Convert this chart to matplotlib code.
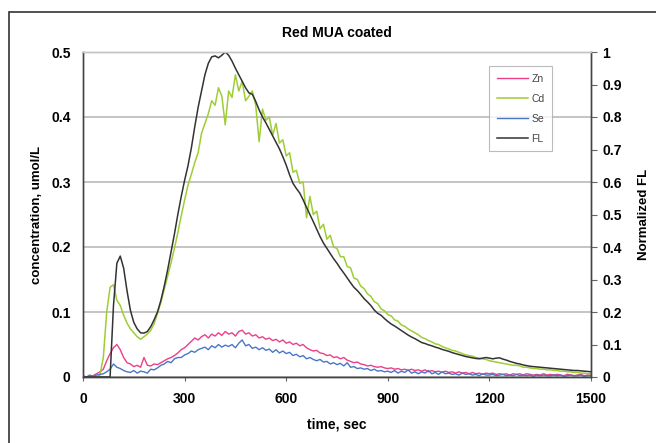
import numpy as np
import matplotlib
matplotlib.use("Agg")
import matplotlib.pyplot as plt
from matplotlib.patches import Rectangle

plt.rcParams['font.family'] = ['Liberation Sans', 'DejaVu Sans']

time_s = np.arange(0, 1501, 10)

zn = [0,0,0,0.002,0.005,0.008,0.012,0.025,0.036,0.045,
      0.050,0.042,0.030,0.022,0.020,0.016,0.018,0.015,0.030,0.018,
      0.017,0.020,0.019,0.022,0.025,0.028,0.030,0.033,0.037,0.042,
      0.045,0.050,0.055,0.060,0.057,0.062,0.065,0.060,0.066,0.063,
      0.068,0.064,0.070,0.066,0.068,0.063,0.070,0.072,0.066,0.068,
      0.063,0.065,0.060,0.062,0.058,0.060,0.056,0.058,0.054,0.057,
      0.052,0.054,0.050,0.052,0.048,0.050,0.045,0.042,0.040,0.041,
      0.037,0.036,0.033,0.034,0.030,0.031,0.028,0.030,0.026,0.024,
      0.022,0.023,0.020,0.019,0.017,0.018,0.016,0.015,0.016,0.014,
      0.013,0.014,0.012,0.013,0.011,0.012,0.010,0.012,0.010,0.011,
      0.009,0.011,0.008,0.010,0.008,0.009,0.007,0.009,0.007,0.008,
      0.006,0.008,0.006,0.007,0.005,0.007,0.005,0.006,0.004,0.006,
      0.005,0.006,0.004,0.005,0.004,0.005,0.003,0.005,0.004,0.005,
      0.003,0.005,0.004,0.003,0.004,0.003,0.005,0.003,0.004,0.003,
      0.004,0.003,0.002,0.004,0.003,0.002,0.003,0.004,0.002,0.003,
      0.003]

cd = [0,0,0,0,0,0.003,0.03,0.10,0.138,0.142,
      0.118,0.110,0.095,0.083,0.074,0.068,0.062,0.058,0.062,0.066,
      0.072,0.082,0.098,0.115,0.135,0.155,0.176,0.198,0.222,0.248,
      0.272,0.295,0.312,0.330,0.345,0.375,0.390,0.405,0.425,0.418,
      0.445,0.432,0.388,0.440,0.430,0.465,0.440,0.455,0.425,0.432,
      0.440,0.418,0.362,0.412,0.395,0.400,0.372,0.390,0.360,0.365,
      0.340,0.345,0.315,0.318,0.298,0.300,0.245,0.278,0.250,0.255,
      0.228,0.235,0.212,0.218,0.200,0.198,0.185,0.185,0.170,0.168,
      0.152,0.150,0.140,0.136,0.128,0.124,0.116,0.113,0.105,0.102,
      0.096,0.094,0.088,0.086,0.080,0.078,0.074,0.071,0.068,0.065,
      0.061,0.059,0.056,0.054,0.051,0.050,0.047,0.045,0.043,0.041,
      0.040,0.038,0.036,0.034,0.033,0.032,0.030,0.029,0.028,0.027,
      0.025,0.024,0.023,0.022,0.021,0.020,0.019,0.018,0.018,0.017,
      0.015,0.015,0.014,0.013,0.013,0.012,0.012,0.011,0.011,0.010,
      0.010,0.009,0.009,0.008,0.008,0.007,0.007,0.006,0.006,0.005,
      0.005]

se = [0.002,0.000,0.003,0.001,0.003,0.004,0.005,0.008,0.012,0.020,
      0.015,0.013,0.010,0.008,0.007,0.010,0.006,0.009,0.008,0.006,
      0.012,0.011,0.014,0.018,0.020,0.024,0.022,0.028,0.030,0.030,
      0.034,0.036,0.040,0.038,0.042,0.044,0.046,0.042,0.048,0.045,
      0.050,0.046,0.049,0.047,0.050,0.045,0.052,0.057,0.048,0.050,
      0.044,0.046,0.042,0.045,0.041,0.043,0.038,0.042,0.037,0.040,
      0.036,0.038,0.033,0.035,0.031,0.033,0.028,0.030,0.027,0.025,
      0.027,0.023,0.024,0.020,0.022,0.019,0.021,0.017,0.022,0.015,
      0.016,0.013,0.014,0.012,0.013,0.010,0.012,0.009,0.010,0.008,
      0.009,0.007,0.010,0.006,0.009,0.007,0.011,0.006,0.008,0.005,
      0.008,0.006,0.010,0.005,0.007,0.004,0.008,0.005,0.006,0.004,
      0.005,0.003,0.006,0.004,0.005,0.003,0.004,0.002,0.005,0.003,
      0.003,0.004,0.002,0.003,0.004,0.002,0.003,0.002,0.004,0.002,
      0.003,0.002,0.003,0.001,0.003,0.002,0.003,0.002,0.002,0.003,
      0.002,0.003,0.001,0.002,0.003,0.002,0.002,0.003,0.001,0.002,
      0.002]

fl = [0,0,0,0,0,0,0,0,0,0.22,
      0.35,0.372,0.335,0.265,0.205,0.168,0.148,0.136,0.135,0.140,
      0.155,0.176,0.200,0.236,0.280,0.330,0.385,0.440,0.500,0.555,
      0.605,0.650,0.705,0.770,0.830,0.880,0.930,0.965,0.985,0.988,
      0.982,0.990,1.000,0.990,0.972,0.950,0.930,0.910,0.890,0.874,
      0.870,0.848,0.822,0.800,0.782,0.762,0.742,0.722,0.702,0.678,
      0.652,0.622,0.596,0.580,0.566,0.545,0.522,0.500,0.478,0.455,
      0.432,0.412,0.396,0.380,0.364,0.350,0.334,0.320,0.305,0.290,
      0.276,0.266,0.254,0.241,0.231,0.220,0.206,0.196,0.190,0.180,
      0.171,0.163,0.157,0.150,0.143,0.136,0.129,0.123,0.118,0.112,
      0.106,0.103,0.099,0.096,0.092,0.089,0.085,0.082,0.079,0.075,
      0.072,0.069,0.066,0.063,0.061,0.059,0.057,0.056,0.058,0.060,
      0.058,0.056,0.058,0.059,0.055,0.052,0.048,0.045,0.042,0.040,
      0.037,0.035,0.033,0.032,0.031,0.030,0.029,0.028,0.027,0.026,
      0.025,0.024,0.023,0.022,0.021,0.020,0.020,0.019,0.018,0.017,
      0.016]

x_ticks = [0, 300, 600, 900, 1200, 1500]
y_left_ticks = [0, 0.1, 0.2, 0.3, 0.4, 0.5]
y_right_ticks = [0, 0.1, 0.2, 0.3, 0.4, 0.5, 0.6, 0.7, 0.8, 0.9, 1]

W, H = 656, 443
fig = plt.figure(figsize=(W/100, H/100), dpi=100)
fig.patches.append(Rectangle((9/W, -0.1), 1.2, (H-12)/H + 0.1, transform=fig.transFigure,
                             fill=False, edgecolor='#333333', linewidth=1.2))

ax = fig.add_axes([83/W, 1-377/H, (591-83)/W, (377-52)/H])
ax2 = ax.twinx()

c_zn, c_cd, c_se, c_fl = '#ec3f86', '#9fcd35', '#4a76c8', '#333333'
l1, = ax.plot(time_s, zn, color=c_zn, lw=1.0, label='Zn')
l2, = ax.plot(time_s, cd, color=c_cd, lw=1.1, label='Cd')
l3, = ax.plot(time_s, se, color=c_se, lw=1.0, label='Se')
l4, = ax2.plot(time_s, fl, color=c_fl, lw=1.1, label='FL')

ax.set_xlim(0, 1500)
ax.set_ylim(0, 0.5)
ax2.set_ylim(0, 1)
ax.set_xticks(x_ticks)
ax.set_xticklabels([str(v) for v in x_ticks])
ax.set_yticks(y_left_ticks)
ax.set_yticklabels(['0', '0.1', '0.2', '0.3', '0.4', '0.5'])
ax2.set_yticks(y_right_ticks)
ax2.set_yticklabels(['0', '0.1', '0.2', '0.3', '0.4', '0.5', '0.6', '0.7', '0.8', '0.9', '1'])

ax.yaxis.grid(True, color='#c4c4c4', lw=1.4)
ax.set_axisbelow(True)
for a in (ax, ax2):
    for s in a.spines.values():
        s.set_color('#444444')
        s.set_linewidth(1.0)
    a.spines['top'].set_color('#c4c4c4')
ax.tick_params(axis='both', labelsize=10, length=0, pad=9)
ax.tick_params(axis='x', length=3, direction='out', color='#666666', pad=8)
ax2.tick_params(axis='y', labelsize=10, length=4, direction='out', color='#666666', pad=4)
for lab in ax.get_xticklabels() + ax.get_yticklabels() + ax2.get_yticklabels():
    lab.set_fontweight('bold')

ax.set_xlabel('time, sec', fontsize=10, fontweight='bold', labelpad=8)
ax.set_ylabel('concentration, umol/L', fontsize=9.5, fontweight='bold', labelpad=6)
ax2.set_ylabel('Normalized FL', fontsize=9.5, fontweight='bold', labelpad=12)
ax.set_title('Red MUA coated', fontsize=10, fontweight='bold', pad=11)

leg = ax2.legend(handles=[l1, l2, l3, l4], loc='upper left',
                 bbox_to_anchor=((489-83)/(591-83), (377-66)/(377-52)),
                 fontsize=7.5, frameon=True, fancybox=False, markerfirst=True,
                 handlelength=3.0, handletextpad=0.3, labelspacing=0.95,
                 borderpad=0.75, borderaxespad=0)
leg.get_frame().set_edgecolor('#aaaaaa')
leg.get_frame().set_linewidth(0.8)
for t in leg.get_texts():
    t.set_color('#444444')

fig.savefig('out.png', dpi=100)
